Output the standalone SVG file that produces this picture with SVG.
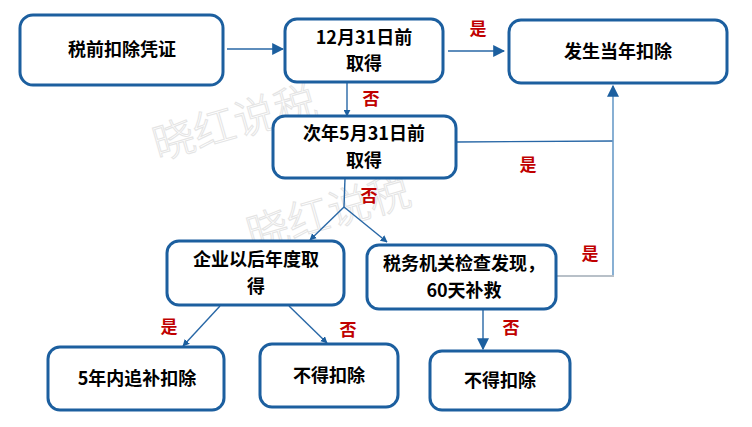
<svg xmlns="http://www.w3.org/2000/svg" width="752" height="427" viewBox="0 0 752 427">
<style>
.box{fill:#fff;stroke:#1c5f9f;stroke-width:3}
.t{font-family:"Noto Sans CJK SC","Noto Sans",sans-serif;font-weight:bold;font-size:18px;fill:#000;text-anchor:middle}
.l{font-family:"Noto Sans CJK SC","Noto Sans",sans-serif;font-weight:bold;font-size:17px;fill:#c00000;text-anchor:middle}
.c{fill:none;stroke:#2867a6;stroke-width:1.4}
.wm{font-family:"Noto Sans CJK SC",sans-serif;font-weight:300;font-size:42px;fill:#fff;stroke:#e4e4e4;stroke-width:1}
</style>
<defs>
<marker id="ah" viewBox="0 0 10 10" refX="9" refY="5" markerWidth="7" markerHeight="7" markerUnits="userSpaceOnUse" orient="auto"><path d="M0,0L10,5L0,10z" fill="#1c5f9f"/></marker>
<marker id="ab" viewBox="0 0 10 10" refX="9" refY="5" markerWidth="12" markerHeight="12" markerUnits="userSpaceOnUse" orient="auto"><path d="M0,0L10,5L0,10z" fill="#1c5f9f"/></marker>
</defs>
<rect width="752" height="427" fill="#fff"/>
<g id="watermarks">
<text class="wm" transform="translate(158,160) rotate(-16)">晓红说税</text>
<text class="wm" transform="translate(252,250) rotate(-16)">晓红说税</text>
</g>
<g id="connectors">
<line class="c" x1="227" y1="49" x2="283" y2="49" marker-end="url(#ab)"/>
<line class="c" x1="448" y1="51" x2="504" y2="51" marker-end="url(#ab)"/>
<line class="c" x1="347" y1="82" x2="347" y2="116" marker-end="url(#ah)"/>
<polyline class="c" points="456,142 613,141"/>
<line x1="613" y1="277" x2="613" y2="86" stroke="#6a9cc9" stroke-width="1.6" marker-end="url(#ab)"/>
<line x1="556" y1="276" x2="614" y2="276" stroke="#b8c0c8" stroke-width="2"/>
<polyline class="c" points="345,178 344,207"/>
<line class="c" x1="344" y1="207" x2="310" y2="240" marker-end="url(#ah)"/>
<line class="c" x1="344" y1="207" x2="387" y2="242" marker-end="url(#ah)"/>
<line class="c" x1="220" y1="306" x2="183" y2="346" marker-end="url(#ah)"/>
<line class="c" x1="289" y1="306" x2="327" y2="343" marker-end="url(#ah)"/>
<line class="c" x1="483" y1="309" x2="483" y2="349" marker-end="url(#ab)"/>
</g>
<g id="labels">
<text class="l" x="478" y="35">是</text>
<text class="l" x="371" y="105">否</text>
<text class="l" x="528" y="171">是</text>
<text class="l" x="369" y="202">否</text>
<text class="l" x="590" y="260">是</text>
<text class="l" x="169" y="333">是</text>
<text class="l" x="348" y="336">否</text>
<text class="l" x="511" y="334">否</text>
</g>
<g id="n1"><rect class="box" x="20" y="15" width="203" height="70" rx="13"/><text class="t" x="122" y="56">税前扣除凭证</text></g>
<g id="n2"><rect class="box" x="285" y="19" width="158" height="63" rx="12"/><text class="t" x="364" y="43.5">12月31日前<tspan x="364" dy="26.5">取得</tspan></text></g>
<g id="n3"><rect class="box" x="509" y="20" width="218" height="63" rx="12"/><text class="t" x="618" y="58">发生当年扣除</text></g>
<g id="n4"><rect class="box" x="273" y="116" width="183" height="62" rx="12"/><text class="t" x="364" y="140">次年5月31日前<tspan x="364" dy="26.5">取得</tspan></text></g>
<g id="n5"><rect class="box" x="167" y="241" width="177" height="64" rx="12"/><text class="t" x="256" y="266">企业以后年度取<tspan x="256" dy="26.5">得</tspan></text></g>
<g id="n6"><rect class="box" x="367" y="245" width="189" height="64" rx="12"/><text class="t" x="464" y="270">税务机关检查发现，<tspan x="464" dy="26.5">60天补救</tspan></text></g>
<g id="n7"><rect class="box" x="48" y="347" width="176" height="63" rx="12"/><text class="t" x="137" y="385">5年内追补扣除</text></g>
<g id="n8"><rect class="box" x="260" y="344" width="138" height="63" rx="12"/><text class="t" x="329" y="382">不得扣除</text></g>
<g id="n9"><rect class="box" x="430" y="351" width="140" height="59" rx="12"/><text class="t" x="500" y="387">不得扣除</text></g>
</svg>
